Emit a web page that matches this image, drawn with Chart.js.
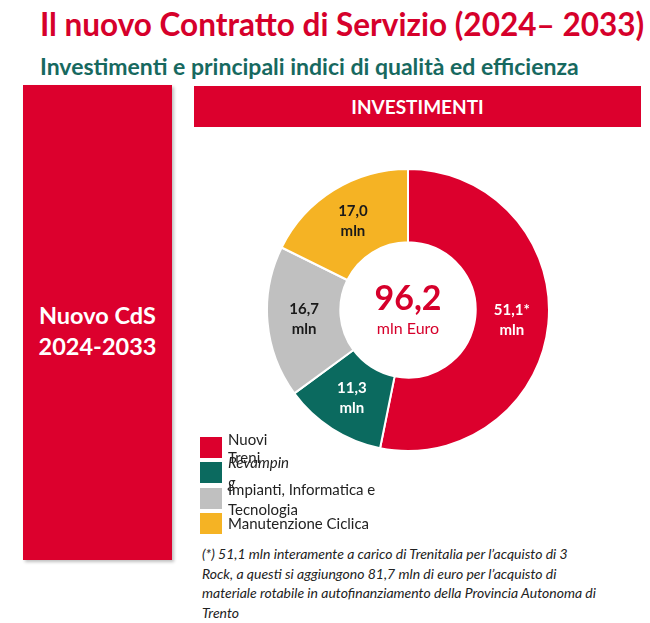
<!DOCTYPE html>
<html>
<head>
<meta charset="utf-8">
<script src="https://cdn.jsdelivr.net/npm/chart.js@4"></script>
<style>
  body { margin: 0; width: 650px; height: 623px; background: #fff; position: relative; overflow: hidden; font-family: Lato, "Open Sans", sans-serif; }
  .abs { position: absolute; }
  #title { left: 40px; top: 5px; font-size: 31.5px; font-weight: 700; color: #d6002b; white-space: nowrap; }
  #subtitle { left: 40px; top: 52px; font-size: 23px; font-weight: 700; color: #17695f; white-space: nowrap; }
  #leftBox { left: 23px; top: 85px; width: 149px; height: 475px; background: #dc002d; box-shadow: 2px 2px 3px rgba(0,0,0,0.25); }
  #leftText { left: 23px; top: 300px; width: 149px; text-align: center; color: #fff; font-size: 23.5px; font-weight: 700; line-height: 31px; }
  #header { left: 194px; top: 86px; width: 447px; height: 41px; background: #dc002d; color: #fff; font-size: 19px; font-weight: 700; text-align: center; line-height: 41px; }
  #chartBox { left: 266px; top: 168px; width: 284px; height: 284px; }
  .sw { position: absolute; width: 22px; height: 21px; }
  .lt { position: absolute; font-size: 15px; color: #222; white-space: nowrap; }
  #note { left: 202px; top: 544px; font-size: 14px; font-style: italic; color: #222; line-height: 19.5px; white-space: nowrap; }
</style>
</head>
<body>
<div id="title" class="abs">Il nuovo Contratto di Servizio (2024– 2033)</div>
<div id="subtitle" class="abs">Investimenti e principali indici di qualità ed efficienza</div>
<div id="leftBox" class="abs"></div>
<div id="leftText" class="abs">Nuovo CdS<br>2024-2033</div>
<div id="header" class="abs">INVESTIMENTI</div>
<div id="chartBox" class="abs"><canvas id="investChart"></canvas></div>
<div id="legend"></div>
<div id="note" class="abs">(*) 51,1 mln interamente a carico di Trenitalia per l’acquisto di 3<br>Rock, a questi si aggiungono 81,7 mln di euro per l’acquisto di<br>materiale rotabile in autofinanziamento della Provincia Autonoma di<br>Trento</div>

<script>
const categorie = ["Nuovi Treni", "Revamping", "Impianti, Informatica e Tecnologia", "Manutenzione Ciclica"];
const valori = [51.1, 11.3, 16.7, 17.0];
const etichette = ["51,1*", "11,3", "16,7", "17,0"];
const colori = ["#dc002d", "#0b6a5f", "#c0c0c0", "#f5b324"];
const coloriTesto = ["#ffffff", "#ffffff", "#1a1a1a", "#1a1a1a"];
const totale = "96,2";

// legenda a mano, righe che si sovrappongono come nell'originale
function legenda() {
    const box = document.getElementById("legend");
    const swTop = [437, 462, 488, 513];
    const righe = [
        [["Nuovi", 430, false], ["Treni", 448, false]],
        [["Revampin", 453, true], ["g", 473, true]],
        [["Impianti, Informatica e", 480, false], ["Tecnologia", 500, false]],
        [["Manutenzione Ciclica", 514, false]]
    ];
    categorie.forEach(function (c, i) {
        const sw = document.createElement("div");
        sw.className = "sw";
        sw.style.left = "200px";
        sw.style.top = swTop[i] + "px";
        sw.style.background = colori[i];
        box.appendChild(sw);
        righe[i].forEach(function (r) {
            const t = document.createElement("div");
            t.className = "lt";
            t.style.left = "228px";
            t.style.top = r[1] + "px";
            if (r[2]) t.style.fontStyle = "italic";
            t.textContent = r[0];
            box.appendChild(t);
        });
    });
}

const etichettePlugin = {
    id: "etichette",
    afterDatasetsDraw(chart) {
        const ctx = chart.ctx;
        const meta = chart.getDatasetMeta(0);
        ctx.save();
        ctx.textAlign = "center";
        ctx.textBaseline = "middle";
        ctx.font = "bold 15px Lato, 'Open Sans', sans-serif";
        meta.data.forEach(function (arc, i) {
            const p = arc.tooltipPosition();
            ctx.fillStyle = coloriTesto[i];
            ctx.fillText(etichette[i], p.x, p.y - 10);
            ctx.fillText("mln", p.x, p.y + 10);
        });
        const cx = (chart.chartArea.left + chart.chartArea.right) / 2;
        const cy = (chart.chartArea.top + chart.chartArea.bottom) / 2;
        ctx.fillStyle = "#d6002b";
        ctx.font = "bold 34px Lato, 'Open Sans', sans-serif";
        ctx.fillText(totale, cx, cy - 11);
        ctx.font = "16px Lato, 'Open Sans', sans-serif";
        ctx.fillText("mln Euro", cx, cy + 19);
        ctx.restore();
    }
};

new Chart(document.getElementById("investChart").getContext("2d"), {
    type: "doughnut",
    data: {
        labels: categorie,
        datasets: [{
            data: valori,
            backgroundColor: colori,
            borderColor: "#ffffff",
            borderWidth: 2
        }]
    },
    options: {
        responsive: true,
        maintainAspectRatio: false,
        animation: false,
        cutout: "48%",
        layout: { padding: 0 },
        plugins: {
            legend: { display: false },
            tooltip: { enabled: false }
        }
    },
    plugins: [etichettePlugin]
});

legenda();
</script>
</body>
</html>
